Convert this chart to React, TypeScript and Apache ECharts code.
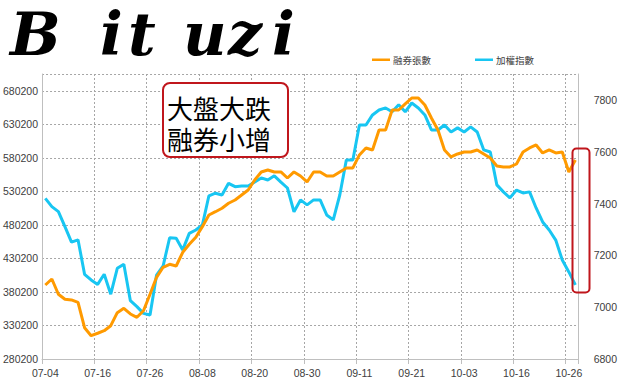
import React, { useEffect, useRef } from "react";
import * as echarts from "echarts";

const categories: string[] = [
  "07-04","07-05","07-06","07-09","07-10","07-11","07-12","07-13","07-16","07-17",
  "07-18","07-19","07-20","07-23","07-24","07-25","07-26","07-27","07-30","07-31",
  "08-01","08-03","08-06","08-07","08-08","08-09","08-10","08-13","08-14","08-15",
  "08-16","08-17","08-20","08-21","08-22","08-23","08-24","08-27","08-28","08-29",
  "08-30","08-31","09-03","09-04","09-05","09-06","09-07","09-10","09-11","09-12",
  "09-13","09-14","09-17","09-18","09-19","09-20","09-21","09-24","09-25","09-26",
  "09-27","09-28","10-01","10-02","10-03","10-04","10-05","10-08","10-09","10-11",
  "10-12","10-15","10-16","10-17","10-18","10-19","10-22","10-23","10-24","10-25",
  "10-26","10-29",
];

// 融券張數 (left axis)
const shortShares: number[] = [
  390600, 399600, 376800, 369300, 368300, 364800, 326900, 315000, 318600, 322400,
  329900, 349300, 355900, 347400, 342400, 352300, 376800, 402100, 417100, 421500,
  419000, 439400, 451400, 461800, 477700, 495100, 500000, 505100, 512600, 517500,
  525000, 532400, 547400, 559300, 562300, 559300, 559300, 550300, 559300, 553300,
  544400, 559300, 559300, 553300, 553300, 559300, 565300, 565300, 584700, 595100,
  592100, 622000, 622000, 651800, 651800, 660800, 669700, 669700, 659300, 639900,
  622000, 592100, 581700, 586200, 589100, 589100, 592100, 586200, 580200, 568300,
  566800, 566800, 571200, 589100, 595100, 599600, 587700, 592100, 587700, 589100,
  559300, 577200,
];

// 加權指數 (right axis)
const taiex: number[] = [
  7420, 7388, 7369, 7311, 7251, 7260, 7127, 7105, 7088, 7127,
  7050, 7150, 7166, 7025, 7002, 6976, 6970, 7124, 7159, 7268,
  7266, 7221, 7285, 7298, 7317, 7430, 7440, 7433, 7478, 7465,
  7468, 7468, 7483, 7499, 7491, 7507, 7483, 7460, 7368, 7414,
  7395, 7414, 7414, 7356, 7337, 7433, 7568, 7568, 7703, 7703,
  7742, 7761, 7769, 7754, 7781, 7754, 7788, 7769, 7742, 7684,
  7684, 7703, 7676, 7692, 7676, 7696, 7676, 7607, 7599, 7472,
  7445, 7422, 7452, 7441, 7445, 7383, 7329, 7298, 7259, 7182,
  7136, 7086,
];

const leftTicks: number[] = [280200, 330200, 380200, 430200, 480200, 530200, 580200, 630200, 680200];
const rightTicks: number[] = [6800, 7000, 7200, 7400, 7600, 7800];
const seriesNames: string[] = ["融券張數", "加權指數"];
const noteLines: string[] = ["大盤大跌", "融券小增"];
const logoLetters: string[] = ["B", "i", "t", "u", "z", "i"];

const LEFT_MAX = 705500;
const RIGHT_MIN = 6800;
const RIGHT_MAX = 7900;

export default function App() {
  const ref = useRef<HTMLDivElement>(null);
  useEffect(() => {
    if (!ref.current) return;
    const chart = echarts.init(ref.current, null, { renderer: "svg" });
    const gridColor = "#a6a6a6";
    const labelFont = "Liberation Sans";
    const logoX = [10, 100, 128, 183, 228, 272];
    const plain = (v: number) => String(v);
    const option: any = {
      animation: false,
      backgroundColor: "#ffffff",
      textStyle: { fontFamily: labelFont },
      legend: {
        data: seriesNames,
        top: 50,
        left: 367,
        itemGap: 44,
        itemWidth: 18,
        itemHeight: 2.5,
        icon: "rect",
        textStyle: { fontSize: 9.5, color: "#404040", fontFamily: "Noto Sans CJK TC", padding: [0, 0, 0, -2] },
      },
      grid: { left: 42, right: 37, top: 74, bottom: 24, containLabel: false },
      xAxis: {
        type: "category",
        data: categories,
        boundaryGap: true,
        axisLine: { lineStyle: { color: "#bfbfbf", width: 1 } },
        axisTick: { show: true, interval: 7, length: 5, lineStyle: { color: "#bfbfbf" } },
        axisLabel: { interval: 7, color: "#404040", fontSize: 10.5, margin: 8, fontFamily: labelFont },
        splitLine: { show: true, interval: 7, lineStyle: { color: gridColor, type: [2, 2], width: 1 } },
      },
      yAxis: [
        {
          type: "value",
          min: 280200,
          max: LEFT_MAX,
          position: "left",
          axisLine: { show: true, lineStyle: { color: "#bfbfbf" } },
          axisTick: { show: false, customValues: [...leftTicks, LEFT_MAX] },
          axisLabel: { customValues: leftTicks, formatter: plain, color: "#404040", fontSize: 10.5, margin: 4, fontFamily: labelFont },
          splitLine: { show: true, lineStyle: { color: gridColor, type: [2, 2], width: 1 } },
        },
        {
          type: "value",
          min: RIGHT_MIN,
          max: RIGHT_MAX,
          interval: 100,
          position: "right",
          axisLine: { show: true, lineStyle: { color: "#bfbfbf" } },
          axisTick: { show: false },
          axisLabel: { customValues: rightTicks, formatter: plain, color: "#404040", fontSize: 10.5, margin: 15, fontFamily: labelFont },
          splitLine: { show: false },
        },
      ],
      series: [
        {
          name: seriesNames[0],
          type: "line",
          yAxisIndex: 0,
          data: shortShares,
          symbol: "none",
          lineStyle: { color: "#FF9A00", width: 3 },
          itemStyle: { color: "#FF9A00" },
          z: 3,
        },
        {
          name: seriesNames[1],
          type: "line",
          yAxisIndex: 1,
          data: taiex,
          symbol: "none",
          lineStyle: { color: "#18C6F2", width: 3 },
          itemStyle: { color: "#18C6F2" },
          z: 2,
        },
      ],
      graphic: [
        ...logoLetters.map((ch, i) => ({
          type: "text",
          left: logoX[i],
          top: 4,
          z: 100,
          style: {
            text: ch,
            fontSize: 60,
            fontWeight: "bold",
            fontStyle: "italic",
            fontFamily: "DejaVu Serif",
            fill: "#000000",
          },
        })),
        {
          type: "rect",
          left: 162,
          top: 82,
          z: 100,
          shape: { width: 125, height: 74, r: 7 },
          style: { fill: "#ffffff", stroke: "#c0161c", lineWidth: 2 },
        },
        ...noteLines.map((t, i) => ({
          type: "text",
          left: 167,
          top: 92 + i * 31.5,
          z: 101,
          style: {
            text: t,
            fontSize: 26,
            lineHeight: 30,
            fontFamily: "Noto Sans CJK TC",
            fill: "#000000",
          },
        })),
        {
          type: "rect",
          left: 570,
          top: 146,
          z: 100,
          shape: { width: 17, height: 144, r: 4 },
          style: { fill: "none", stroke: "#c0161c", lineWidth: 2 },
        },
      ],
    };
    chart.setOption(option);
    return () => chart.dispose();
  }, []);
  return (
    <div
      ref={ref}
      style={{ position: "fixed", left: 0, top: 0, width: 620, height: 383 }}
    />
  );
}
